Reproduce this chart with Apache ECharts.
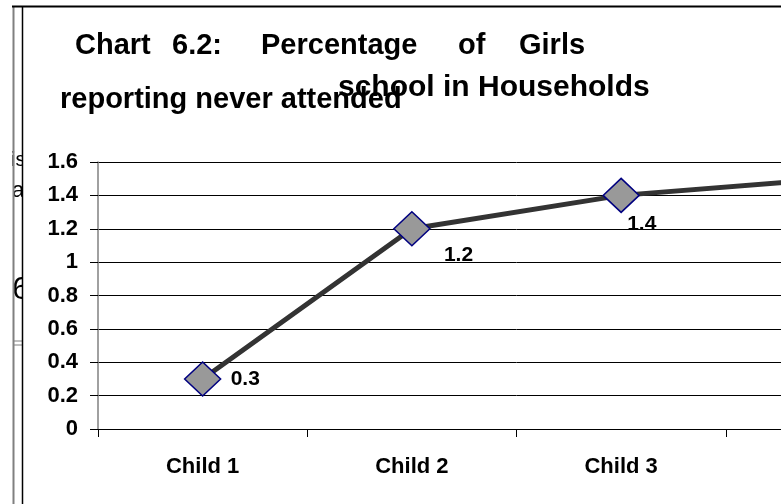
<!DOCTYPE html>
<html>
<head>
<meta charset="utf-8">
<script src="https://cdn.jsdelivr.net/npm/echarts@6/dist/echarts.min.js"></script>
<style>html,body{margin:0;padding:0;background:#fff;overflow:hidden;width:781px;height:504px}#c{width:938px;height:504px}</style>
</head>
<body>
<div id="c"></div>
<script>
// ---- data ----
const categories = ['Child 1', 'Child 2', 'Child 3', 'Child 4'];
const girlsNeverAttended = [0.3, 1.2, 1.4, 1.5];
const yTicks = [0, 0.2, 0.4, 0.6, 0.8, 1, 1.2, 1.4, 1.6];
const titleLine1 = ['Chart', '6.2:', 'Percentage', 'of', 'Girls'];
const titleLine2 = 'reporting never attended';
const titleLine3 = 'school in Households';

// ---- styles / positions (not data) ----
const labelOffsets = [[28, 0], [32, 26], [6, 29], [6, 29]];
const line1X = [75, 172, 261, 458, 519];
const FONT = '"Liberation Sans", Arial, sans-serif';

const chart = echarts.init(document.getElementById('c'), null, {renderer: 'canvas'});

const graphics = [];
// stray background document fragments (clipped at the frame)
graphics.push({type: 'text', z: -5, left: 11, top: 150, style: {text: 'is', font: '20px ' + FONT, fill: '#000'}});
graphics.push({type: 'text', z: -5, left: 12, top: 180, style: {text: 'a', font: '22px ' + FONT, fill: '#000'}});
graphics.push({type: 'text', z: -5, left: 12, top: 274, style: {text: '6', font: '32px ' + FONT, fill: '#000'}});
graphics.push({type: 'rect', z: -4, shape: {x: 23, y: 7, width: 938, height: 504}, style: {fill: '#fff'}});
graphics.push({type: 'rect', z: -4, shape: {x: 0, y: 0, width: 12, height: 504}, style: {fill: '#fff'}});
graphics.push({type: 'line', z: 10, shape: {x1: 14, y1: 341, x2: 22, y2: 341}, style: {stroke: '#808080', lineWidth: 1}});
graphics.push({type: 'line', z: 10, shape: {x1: 14, y1: 345, x2: 22, y2: 345}, style: {stroke: '#808080', lineWidth: 1}});
// frame lines
graphics.push({type: 'line', z: 10, shape: {x1: 13.5, y1: 6, x2: 13.5, y2: 504}, style: {stroke: '#808080', lineWidth: 2}});
graphics.push({type: 'line', z: 10, shape: {x1: 22.5, y1: 6, x2: 22.5, y2: 504}, style: {stroke: '#000', lineWidth: 1.5}});
graphics.push({type: 'line', z: 10, shape: {x1: 12, y1: 6.5, x2: 938, y2: 6.5}, style: {stroke: '#000', lineWidth: 2}});

// title words (bottom-aligned boxes)
titleLine1.forEach((w, i) => {
  graphics.push({type: 'text', z: 10, x: line1X[i], y: 60,
    style: {text: w, font: 'bold 29px ' + FONT, fill: '#000', verticalAlign: 'bottom'}});
});
graphics.push({type: 'text', z: 10, x: 60, y: 114,
  style: {text: titleLine2, font: 'bold 29px ' + FONT, fill: '#000', verticalAlign: 'bottom'}});
graphics.push({type: 'text', z: 11, x: 338, y: 103,
  style: {text: titleLine3, font: 'bold 30px ' + FONT, fill: '#000', verticalAlign: 'bottom'}});

const seriesData = girlsNeverAttended.map((v, i) => ({
  value: v,
  label: {offset: labelOffsets[i]}
}));

chart.setOption({
  animation: false,
  backgroundColor: '#fff',
  graphic: graphics,
  grid: {left: 98, top: 162, bottom: 75, right: 3, containLabel: false},
  xAxis: {
    type: 'category',
    data: categories,
    boundaryGap: true,
    axisLine: {show: true, lineStyle: {color: '#000', width: 1}},
    axisTick: {show: true, length: 8, lineStyle: {color: '#000'}},
    axisLabel: {margin: 27, fontFamily: FONT, fontWeight: 'bold', fontSize: 22, color: '#000'},
    splitLine: {show: false}
  },
  yAxis: {
    type: 'value',
    min: yTicks[0],
    max: yTicks[yTicks.length - 1],
    interval: 0.2,
    axisLine: {show: true, lineStyle: {color: '#808080', width: 1.5}},
    axisTick: {show: true, length: 8, lineStyle: {color: '#000'}},
    axisLabel: {margin: 20, fontFamily: FONT, fontWeight: 'bold', fontSize: 22, color: '#000',
      formatter: v => String(Math.round(v * 10) / 10)},
    splitLine: {show: true, lineStyle: {color: '#000', width: 1}}
  },
  series: [{
    type: 'line',
    data: seriesData,
    symbol: 'diamond',
    symbolSize: [36, 34],
    itemStyle: {color: '#999999', borderColor: '#000080', borderWidth: 1.5},
    lineStyle: {color: '#333333', width: 5},
    z: 3,
    label: {
      show: true,
      position: 'inside',
      align: 'left',
      verticalAlign: 'middle',
      fontFamily: FONT,
      fontWeight: 'bold',
      fontSize: 21,
      color: '#000'
    }
  }]
});
</script>
</body>
</html>
